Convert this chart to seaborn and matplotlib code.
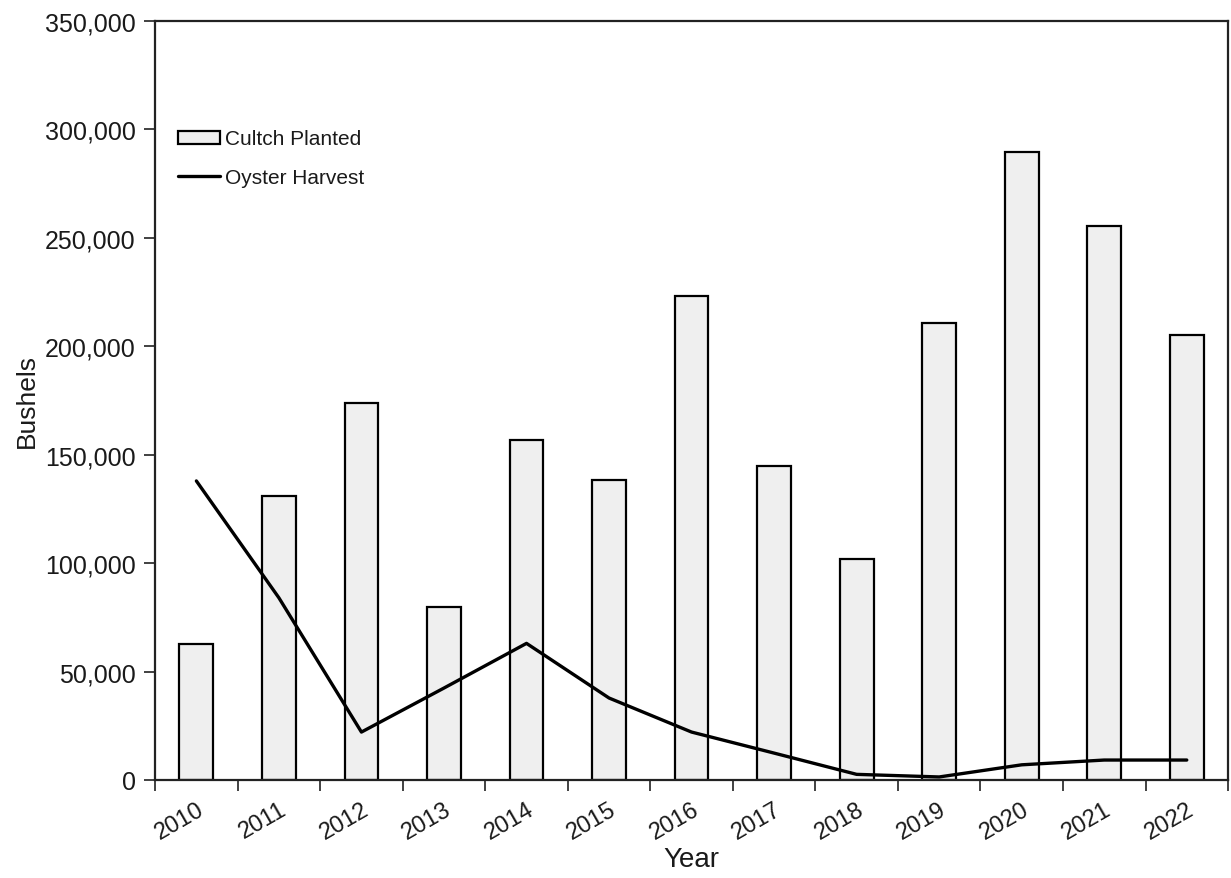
import numpy as np
import pandas as pd
import matplotlib
matplotlib.use("Agg")
import matplotlib.pyplot as plt
import seaborn as sns
from matplotlib.ticker import FuncFormatter, FixedLocator

# Data
years = ["2010", "2011", "2012", "2013", "2014", "2015", "2016",
         "2017", "2018", "2019", "2020", "2021", "2022"]
cultch_planted = [62500, 131000, 174000, 80000, 156800, 138300, 223000,
                  144800, 101900, 210700, 289600, 255500, 205200]
oyster_harvest = [137900, 84000, 22100, 42400, 63000, 37800, 22100,
                  12400, 2600, 1400, 7000, 9200, 9200]

df = pd.DataFrame({"year": years, "cultch": cultch_planted, "harvest": oyster_harvest})
df["pos"] = np.arange(len(df))

sns.set_style("white")
plt.rcParams["font.family"] = ["Liberation Sans", "DejaVu Sans"]
plt.rcParams["text.color"] = "#1a1a1a"
plt.rcParams["axes.labelcolor"] = "#1a1a1a"
plt.rcParams["xtick.color"] = "#1a1a1a"
plt.rcParams["ytick.color"] = "#1a1a1a"

fig, ax = plt.subplots(figsize=(12.31, 8.79), dpi=100)
fig.subplots_adjust(left=0.126, right=0.9976, top=0.975, bottom=0.1115)

sns.barplot(data=df, x="year", y="cultch", color="#efefef", edgecolor="black",
            linewidth=1.6, width=0.41, saturation=1, ax=ax, label="Cultch Planted")
sns.lineplot(data=df, x="pos", y="harvest", color="black", linewidth=2.4,
             ax=ax, label="Oyster Harvest")

ax.set_xlim(-0.5, len(years) - 0.5)
ax.set_ylim(0, 350000)
ax.set_yticks(np.arange(0, 350001, 50000))
ax.yaxis.set_major_formatter(FuncFormatter(lambda v, p: f"{int(v):,}"))

ax.set_xticks(df["pos"])
ax.set_xticklabels(years, rotation=30, ha="right", rotation_mode="anchor")
ax.xaxis.set_minor_locator(FixedLocator(np.arange(-0.5, len(years), 1.0)))
ax.tick_params(axis="x", which="major", length=0, pad=13, labelsize=17)
ax.tick_params(axis="x", which="minor", length=8, width=1.3, color="#333333",
               direction="out", bottom=True)
ax.tick_params(axis="y", length=8, width=1.3, color="#333333", direction="out",
               left=True, labelsize=18, pad=6)

for s in ax.spines.values():
    s.set_visible(True)
    s.set_color("#222222")
    s.set_linewidth(1.6)

ax.set_xlabel("Year", fontsize=20, labelpad=2)
ax.set_ylabel("Bushels", fontsize=19, labelpad=4)

handles, labels = ax.get_legend_handles_labels()
order = [labels.index("Cultch Planted"), labels.index("Oyster Harvest")]
leg = ax.legend([handles[i] for i in order], [labels[i] for i in order],
                loc="upper left", bbox_to_anchor=(0.014, 0.868), frameon=False,
                fontsize=15, handlelength=2.0, handletextpad=0.25,
                labelspacing=0.95, borderaxespad=0)
for h in leg.legend_handles:
    if hasattr(h, "set_height"):
        h.set_height(10)

plt.savefig("out.png", dpi=100)
